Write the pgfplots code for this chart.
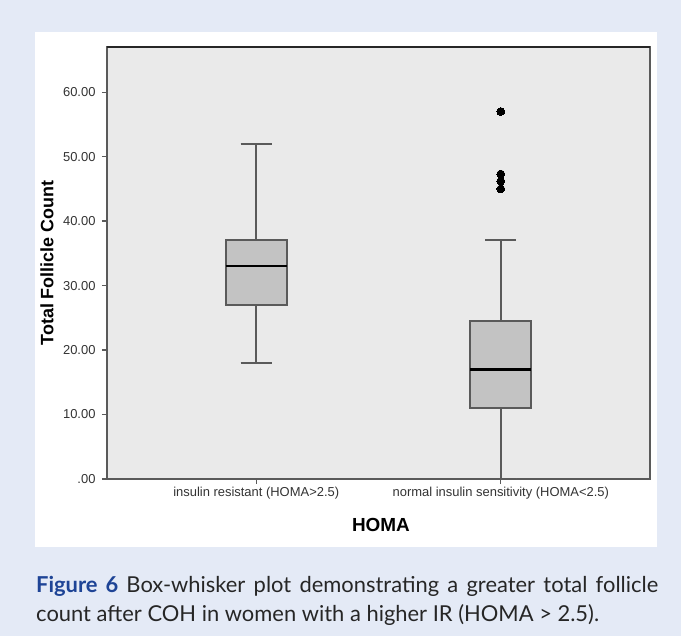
\documentclass[border=0pt]{standalone}
\usepackage{fontspec}
\setmainfont{Liberation Sans}
\newfontfamily\capfont{Lato}
\usepackage{pgfplots}
\pgfplotsset{compat=1.18}
\usepgfplotslibrary{statistics}
\definecolor{bgblue}{RGB}{228,234,246}
\definecolor{plotbg}{RGB}{234,234,234}
\definecolor{boxfill}{RGB}{195,195,195}
\definecolor{linegray}{RGB}{90,90,90}
\definecolor{figblue}{RGB}{30,68,150}
\begin{document}
\begin{tikzpicture}
\fill[bgblue] (0bp,0bp) rectangle (681bp,636bp);
\fill[white] (35bp,89bp) rectangle (657bp,604bp);
\begin{axis}[
  at={(107bp,157bp)}, anchor=south west, scale only axis,
  width=543bp, height=432bp,
  xmin=0.39, xmax=2.61, ymin=0, ymax=67,
  axis background/.style={fill=plotbg},
  boxplot/draw direction=y,
  xtick={1,2},
  xticklabels={insulin resistant (HOMA>2.5), normal insulin sensitivity (HOMA<2.5)},
  ytick={0,10,20,30,40,50,60},
  yticklabels={.00,10.00,20.00,30.00,40.00,50.00,60.00},
  tick pos=left, tick align=outside, major tick length=5bp,
  tick style={linegray, line width=1.2bp},
  axis line style={linegray, line width=1.4bp},
  xticklabel style={font=\fontsize{13}{15}\selectfont, text=black!80},
  yticklabel style={font=\fontsize{13}{15}\selectfont, text=black!80, xshift=-3bp},
  every axis x label/.style={at={(axis description cs:0.5046,-0.1065)}, anchor=center, font=\bfseries\fontsize{19}{21}\selectfont},
  every axis y label/.style={at={(axis description cs:-0.1105,0.5)}, rotate=90, anchor=center, font=\bfseries\fontsize{18}{20}\selectfont},
  xlabel={HOMA},
  ylabel={Total Follicle Count},
  boxplot/every box/.style={draw=linegray, fill=boxfill, line width=2bp},
  boxplot/every whisker/.style={draw=linegray, line width=2bp},
  boxplot/every median/.style={draw=black, line width=2.4bp},
]
\addplot[boxplot prepared={draw position=1, lower whisker=18, lower quartile=27, median=33, upper quartile=37, upper whisker=52, box extend=0.25, whisker extend=0.127},
  draw=linegray, fill=boxfill, line width=2bp] coordinates {};
\addplot[boxplot prepared={draw position=2, lower whisker=0, lower quartile=11, median=17, upper quartile=24.5, upper whisker=37, box extend=0.25, whisker extend=0.127},
  draw=linegray, fill=boxfill, line width=2bp, mark=*, mark size=3.9bp, mark options={fill=black, draw=black, solid, line width=0pt}]
  table[row sep=\\, y index=0] {57\\ 47.3\\ 46.2\\ 45\\};
\end{axis}
\draw[black!85, line width=1.4bp] (107bp,589bp) -- (650bp,589bp);
\node[anchor=north west, text width=622bp, inner sep=0pt, align=justify,
  font=\capfont\fontsize{22}{29}\selectfont, text=black!85] at (36bp,60bp)
  {{\bfseries\color{figblue}Figure 6} Box-whisker plot demonstrating a greater total follicle\linebreak count after COH in women with a higher IR (HOMA > 2.5).};
\end{tikzpicture}
\end{document}
